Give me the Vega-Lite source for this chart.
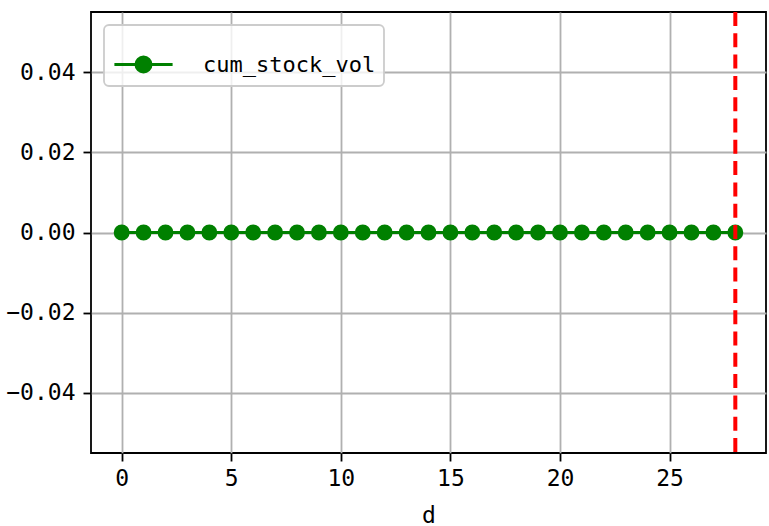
{
  "$schema": "https://vega.github.io/schema/vega-lite/v6.json",
  "width": 675,
  "height": 441,
  "autosize": {"type": "none"},
  "padding": {"left": 91, "top": 12, "right": 3, "bottom": 73},
  "background": "white",
  "config": {
    "view": {"stroke": "black", "strokeWidth": 1.8},
    "font": "DejaVu Sans Mono",
    "axis": {
      "labelFont": "DejaVu Sans Mono",
      "labelFontSize": 23,
      "labelColor": "black",
      "titleFont": "DejaVu Sans Mono",
      "titleFontSize": 23,
      "titleFontWeight": "normal",
      "titleColor": "black",
      "domain": false,
      "tickColor": "black",
      "tickSize": 8,
      "tickWidth": 1.8,
      "gridColor": "#b0b0b0",
      "gridWidth": 1.8,
      "grid": true
    },
    "legend": {
      "padding": 8,
      "fillColor": "rgba(255,255,255,0.8)",
      "strokeColor": "#cccccc",
      "strokeWidth": 1.8,
      "cornerRadius": 5
    }
  },
  "layer": [
    {
      "data": {"values": [
        {"d": 0, "v": 0}, {"d": 1, "v": 0}, {"d": 2, "v": 0}, {"d": 3, "v": 0}, {"d": 4, "v": 0},
        {"d": 5, "v": 0}, {"d": 6, "v": 0}, {"d": 7, "v": 0}, {"d": 8, "v": 0}, {"d": 9, "v": 0},
        {"d": 10, "v": 0}, {"d": 11, "v": 0}, {"d": 12, "v": 0}, {"d": 13, "v": 0}, {"d": 14, "v": 0},
        {"d": 15, "v": 0}, {"d": 16, "v": 0}, {"d": 17, "v": 0}, {"d": 18, "v": 0}, {"d": 19, "v": 0},
        {"d": 20, "v": 0}, {"d": 21, "v": 0}, {"d": 22, "v": 0}, {"d": 23, "v": 0}, {"d": 24, "v": 0},
        {"d": 25, "v": 0}, {"d": 26, "v": 0}, {"d": 27, "v": 0}, {"d": 28, "v": 0}
      ]},
      "layer": [
        {
          "mark": {"type": "line", "strokeWidth": 3.2},
          "encoding": {
            "x": {"field": "d", "type": "quantitative",
                  "scale": {"domain": [-1.4, 29.4], "nice": false, "zero": false},
                  "axis": {"values": [0, 5, 10, 15, 20, 25], "title": "d", "titlePadding": 14, "labelPadding": 6}},
            "y": {"field": "v", "type": "quantitative",
                  "scale": {"domain": [-0.055, 0.055], "nice": false, "zero": false},
                  "axis": {"values": [-0.04, -0.02, 0, 0.02, 0.04], "format": ".2f", "title": null, "labelPadding": 8}},
            "color": {"datum": "cum_stock_vol", "type": "nominal",
                      "scale": {"range": ["#008000"]},
                      "legend": {
                        "title": null,
                        "orient": "top-left",
                        "offset": 13,
                        "symbolType": "M-0.97,0L0.97,0M-0.25,0A0.25,0.25,0,1,1,0.25,0A0.25,0.25,0,1,1,-0.25,0Z",
                        "symbolSize": 3600,
                        "symbolStrokeWidth": 3,
                        "symbolFillColor": "#008000",
                        "symbolStrokeColor": "#008000",
                        "symbolOpacity": 1,
                        "labelFont": "DejaVu Sans Mono",
                        "labelFontSize": 22,
                        "labelColor": "black",
                        "labelOffset": 28,
                        "labelLimit": 0
                      }}
          }
        },
        {
          "mark": {"type": "point", "shape": "circle", "filled": true, "size": 254, "opacity": 1, "strokeWidth": 0},
          "encoding": {
            "x": {"field": "d", "type": "quantitative"},
            "y": {"field": "v", "type": "quantitative"},
            "color": {"datum": "cum_stock_vol", "type": "nominal"}
          }
        }
      ]
    },
    {
      "data": {"values": [{"d": 28}]},
      "mark": {"type": "rule", "color": "red", "strokeWidth": 4, "strokeDash": [14, 7.3]},
      "encoding": {"x": {"field": "d", "type": "quantitative"}}
    }
  ]
}
